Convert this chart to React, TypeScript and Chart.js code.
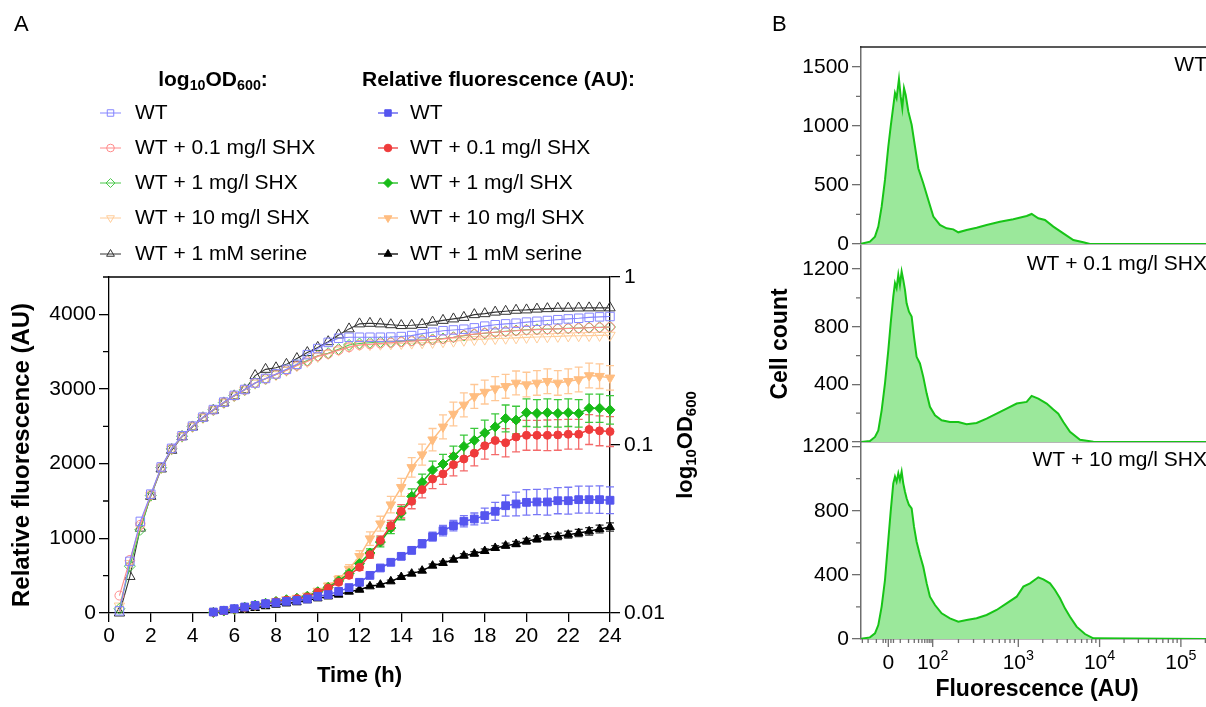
import React, { useEffect, useRef } from 'react';
import { Chart, registerables } from 'chart.js';
Chart.register(...registerables);

const FONT = "'Liberation Sans', Arial, Helvetica, sans-serif";

// ---------------- Panel A data ----------------
const seriesNames = ['WT', 'WT + 0.1 mg/l SHX', 'WT + 1 mg/l SHX', 'WT + 10 mg/l SHX', 'WT + 1 mM serine'];

const timeTicks = [0, 2, 4, 6, 8, 10, 12, 14, 16, 18, 20, 22, 24];
const fluorTicks = [0, 1000, 2000, 3000, 4000];
const fluorMinorTicks = [500, 1500, 2500, 3500, 4500];
const odTicks = [0.01, 0.1, 1];

const odTime = [0.5, 1, 1.5, 2, 2.5, 3, 3.5, 4, 4.5, 5, 5.5, 6, 6.5, 7, 7.5, 8, 8.5, 9, 9.5, 10, 10.5, 11, 11.5, 12, 12.5, 13, 13.5, 14, 14.5, 15, 15.5, 16, 16.5, 17, 17.5, 18, 18.5, 19, 19.5, 20, 20.5, 21, 21.5, 22, 22.5, 23, 23.5, 24];

const odWT = [0.0103, 0.0203, 0.0351, 0.051, 0.074, 0.0955, 0.1135, 0.1295, 0.1465, 0.1625, 0.18, 0.1975, 0.214, 0.234, 0.249, 0.265, 0.282, 0.302, 0.345, 0.375, 0.408, 0.432, 0.4375, 0.438, 0.438, 0.438, 0.439, 0.442, 0.448, 0.46, 0.469, 0.479, 0.484, 0.489, 0.498, 0.51, 0.52, 0.526, 0.531, 0.539, 0.545, 0.551, 0.557, 0.563, 0.568, 0.575, 0.579, 0.582];
const odSHX01 = [0.0127, 0.0207, 0.0335, 0.0505, 0.0736, 0.095, 0.113, 0.129, 0.146, 0.162, 0.179, 0.1965, 0.213, 0.234, 0.248, 0.263, 0.279, 0.297, 0.315, 0.338, 0.349, 0.367, 0.382, 0.394, 0.398, 0.402, 0.406, 0.41, 0.415, 0.419, 0.423, 0.428, 0.437, 0.45, 0.457, 0.464, 0.469, 0.474, 0.479, 0.484, 0.486, 0.489, 0.491, 0.494, 0.496, 0.499, 0.501, 0.504];
const odSHX1 = [0.0106, 0.019, 0.0313, 0.05, 0.0733, 0.0948, 0.1128, 0.129, 0.146, 0.162, 0.179, 0.1965, 0.213, 0.234, 0.248, 0.263, 0.28, 0.299, 0.318, 0.34, 0.352, 0.372, 0.394, 0.402, 0.406, 0.41, 0.41, 0.414, 0.418, 0.421, 0.425, 0.43, 0.438, 0.448, 0.456, 0.463, 0.469, 0.475, 0.48, 0.485, 0.488, 0.49, 0.492, 0.495, 0.497, 0.5, 0.502, 0.504];
const odSHX10 = [0.011, 0.0197, 0.033, 0.05, 0.073, 0.0945, 0.1125, 0.1285, 0.1455, 0.1615, 0.1785, 0.196, 0.2125, 0.233, 0.247, 0.262, 0.278, 0.296, 0.314, 0.336, 0.35, 0.367, 0.384, 0.394, 0.396, 0.398, 0.4, 0.402, 0.404, 0.406, 0.408, 0.412, 0.415, 0.42, 0.424, 0.427, 0.43, 0.432, 0.434, 0.437, 0.439, 0.441, 0.443, 0.446, 0.447, 0.448, 0.449, 0.45];
const odSerine = [0.01, 0.0165, 0.032, 0.0495, 0.072, 0.093, 0.112, 0.128, 0.145, 0.161, 0.178, 0.196, 0.213, 0.259, 0.282, 0.288, 0.302, 0.327, 0.355, 0.381, 0.412, 0.452, 0.491, 0.526, 0.53, 0.526, 0.52, 0.514, 0.516, 0.522, 0.539, 0.552, 0.563, 0.575, 0.597, 0.605, 0.618, 0.625, 0.634, 0.637, 0.644, 0.648, 0.651, 0.652, 0.654, 0.655, 0.655, 0.655];

const flTime = [5, 5.5, 6, 6.5, 7, 7.5, 8, 8.5, 9, 9.5, 10, 10.5, 11, 11.5, 12, 12.5, 13, 13.5, 14, 14.5, 15, 15.5, 16, 16.5, 17, 17.5, 18, 18.5, 19, 19.5, 20, 20.5, 21, 21.5, 22, 22.5, 23, 23.5, 24];

const flWT = [13, 36, 58, 80, 103, 125, 138, 156, 170, 188, 223, 246, 290, 340, 411, 504, 603, 679, 759, 839, 929, 1022, 1103, 1170, 1228, 1259, 1304, 1362, 1437, 1460, 1482, 1487, 1487, 1504, 1504, 1518, 1518, 1518, 1510];
const flWTErr = [15, 15, 15, 15, 15, 15, 15, 15, 15, 15, 20, 20, 20, 20, 20, 25, 30, 35, 40, 45, 55, 60, 70, 70, 75, 80, 100, 120, 140, 160, 170, 170, 175, 175, 180, 180, 180, 185, 180];
const flSHX01 = [10, 30, 52, 75, 100, 125, 150, 172, 192, 215, 277, 335, 411, 504, 612, 781, 973, 1170, 1362, 1496, 1652, 1795, 1862, 1987, 2063, 2140, 2240, 2310, 2280, 2357, 2380, 2380, 2380, 2385, 2394, 2394, 2457, 2440, 2430];
const flSHX01Err = [10, 10, 10, 10, 10, 10, 10, 10, 10, 10, 20, 25, 30, 35, 40, 50, 60, 70, 90, 100, 110, 130, 140, 150, 160, 170, 180, 190, 190, 200, 200, 200, 205, 205, 200, 200, 200, 200, 200];
const flSHX1 = [8, 28, 50, 78, 105, 130, 155, 178, 198, 225, 285, 345, 430, 530, 661, 804, 950, 1138, 1339, 1562, 1750, 1914, 1995, 2095, 2231, 2312, 2412, 2493, 2606, 2584, 2683, 2674, 2683, 2674, 2683, 2674, 2742, 2742, 2720];
const flSHX1Err = [10, 10, 10, 10, 10, 10, 10, 10, 10, 10, 20, 25, 30, 35, 45, 55, 65, 75, 90, 100, 110, 120, 130, 140, 150, 160, 170, 175, 180, 185, 185, 185, 185, 185, 185, 185, 190, 190, 190];
const flSHX10 = [12, 32, 55, 80, 105, 132, 158, 180, 200, 230, 295, 365, 455, 589, 759, 996, 1196, 1451, 1683, 1950, 2121, 2321, 2493, 2665, 2787, 2900, 2959, 3005, 3036, 3081, 3059, 3081, 3104, 3081, 3104, 3127, 3181, 3172, 3149];
const flSHX10Err = [10, 10, 10, 10, 10, 10, 10, 10, 10, 10, 20, 30, 45, 60, 75, 90, 100, 110, 120, 130, 140, 150, 160, 160, 160, 160, 160, 160, 160, 160, 165, 165, 165, 165, 165, 165, 165, 165, 165];
const flSerine = [5, 20, 40, 55, 67, 90, 112, 128, 143, 170, 196, 222, 246, 286, 312, 357, 379, 424, 482, 527, 567, 634, 670, 714, 768, 795, 830, 871, 902, 924, 960, 991, 1018, 1027, 1049, 1071, 1094, 1125, 1152];
const flSerineErr = [8, 8, 8, 8, 8, 8, 8, 8, 8, 8, 10, 10, 10, 12, 12, 14, 15, 16, 18, 20, 20, 22, 24, 25, 26, 28, 30, 32, 34, 36, 38, 40, 42, 44, 46, 48, 50, 52, 55];

// ---------------- Panel B data ----------------
// x positions are in display units of the biexponential fluorescence axis (10^3 -> 3, 10^4 -> 4 ...)
const histWTx = [1.052, 1.175, 1.237, 1.278, 1.319, 1.36, 1.401, 1.43, 1.462, 1.483, 1.503, 1.532, 1.553, 1.573, 1.594, 1.614, 1.647, 1.688, 1.729, 1.77, 1.831, 1.893, 1.955, 2.036, 2.118, 2.2, 2.262, 2.364, 2.487, 2.61, 2.774, 2.938, 3.103, 3.164, 3.246, 3.328, 3.431, 3.554, 3.677, 3.8, 3.882, 5.308];
const histWTy = [0, 20, 62, 147, 316, 542, 825, 994, 1164, 1277, 1234, 1396, 1249, 1150, 1319, 1263, 1122, 1009, 825, 641, 514, 373, 232, 161, 133, 124, 99, 119, 138, 161, 189, 209, 237, 254, 218, 203, 147, 90, 34, 14, 0, 0];
const histSHX01x = [1.052, 1.175, 1.237, 1.278, 1.319, 1.36, 1.401, 1.43, 1.462, 1.483, 1.503, 1.524, 1.544, 1.565, 1.585, 1.606, 1.626, 1.655, 1.688, 1.717, 1.749, 1.79, 1.831, 1.873, 1.913, 1.975, 2.057, 2.159, 2.262, 2.364, 2.487, 2.61, 2.733, 2.856, 2.98, 3.103, 3.164, 3.246, 3.349, 3.431, 3.492, 3.554, 3.636, 3.759, 3.923, 5.308];
const histSHX01y = [0, 7, 35, 81, 220, 406, 638, 823, 1009, 1102, 1067, 1160, 1090, 1183, 1125, 1055, 962, 904, 870, 730, 591, 545, 452, 336, 244, 186, 151, 139, 139, 123, 132, 162, 197, 232, 267, 278, 320, 301, 267, 225, 197, 139, 70, 16, 2, 0];
const histSHX10x = [1.052, 1.175, 1.237, 1.278, 1.319, 1.36, 1.401, 1.43, 1.462, 1.483, 1.503, 1.524, 1.544, 1.565, 1.585, 1.606, 1.626, 1.655, 1.688, 1.717, 1.749, 1.79, 1.831, 1.873, 1.913, 1.975, 2.057, 2.159, 2.262, 2.364, 2.487, 2.61, 2.733, 2.856, 2.98, 3.062, 3.144, 3.246, 3.308, 3.39, 3.451, 3.513, 3.574, 3.636, 3.717, 3.82, 3.923, 5.308];
const histSHX10y = [0, 10, 35, 87, 202, 368, 618, 795, 971, 1013, 982, 1034, 992, 1044, 971, 919, 878, 836, 815, 701, 607, 524, 451, 347, 264, 212, 160, 129, 108, 118, 129, 150, 181, 222, 264, 327, 347, 385, 372, 347, 306, 254, 191, 139, 77, 31, 4, 0];

const histLabels = ['WT', 'WT + 0.1 mg/l SHX', 'WT + 10 mg/l SHX'];
const histTicks1 = [0, 500, 1000, 1500];
const histMinor1 = [250, 750, 1250];
const histTicks23 = [0, 400, 800, 1200];
const histMinor23 = [200, 600, 1000];
const fluorAxisValues = [0, 100, 1000, 10000, 100000];
const fluorAxisExp = ['', '2', '3', '4', '5'];
const fluorMinorValues = [-30, -20, -10, -4, -2, 2, 4, 10, 20, 30, 40, 50, 60, 70, 80, 90, 200, 300, 400, 500, 600, 700, 800, 900, 2000, 3000, 4000, 5000, 6000, 7000, 8000, 9000, 20000, 30000, 40000, 50000, 60000, 70000, 80000, 90000, 200000];

// biexponential display transform for axis ticks
function biexU(v: number) {
  if (Math.abs(v) <= 100) return 1.401 + 0.1938 * Math.asinh(v / 12);
  if (v < 1000) return 1.947 + (Math.log10(v) - 2) * 1.053;
  return Math.log10(v);
}

// ---------------- styling ----------------
const flColors = ['#5555ef', '#ef3b3b', '#17bb17', '#ffbd80', '#000000'];
const errColors = ['#7878f6', '#f46a6a', '#3cc83c', '#ffc896', '#333333'];
const odColors = ['#8585ff', '#ff8a8a', '#4cc84c', '#ffcc99', '#333333'];
const styles = ['rect', 'circle', 'rectRot', 'triangle', 'triangle'];
const rotations = [0, 0, 0, 180, 0];
const flRadius = [5.5, 4, 5, 5.5, 5];
const odRadius = [6, 4.5, 5.5, 6, 6];

type Seg = [string, number];

function richWidth(ctx: CanvasRenderingContext2D, segs: Seg[], size: number, weight: string) {
  let w = 0;
  for (const [t, k] of segs) {
    ctx.font = `${weight} ${k ? size * 0.68 : size}px ${FONT}`;
    w += ctx.measureText(t).width;
  }
  return w;
}

function drawRich(ctx: CanvasRenderingContext2D, segs: Seg[], x: number, y: number, size: number, weight: string, align: string) {
  const w = richWidth(ctx, segs, size, weight);
  let cx = align === 'center' ? x - w / 2 : align === 'right' ? x - w : x;
  ctx.textAlign = 'left';
  ctx.textBaseline = 'middle';
  for (const [t, k] of segs) {
    const s = k ? size * 0.68 : size;
    ctx.font = `${weight} ${s}px ${FONT}`;
    const dy = k === 1 ? size * 0.28 : k === 2 ? -size * 0.34 : 0;
    ctx.fillText(t, cx, y + dy);
    cx += ctx.measureText(t).width;
  }
}

function drawMarker(ctx: CanvasRenderingContext2D, style: string, rot: number, x: number, y: number, r: number, fill: string | null, stroke: string) {
  ctx.beginPath();
  if (style === 'rect') {
    const s = r * 0.72;
    ctx.rect(x - s, y - s, 2 * s, 2 * s);
  } else if (style === 'circle') {
    ctx.arc(x, y, r * 0.85, 0, Math.PI * 2);
  } else if (style === 'rectRot') {
    ctx.moveTo(x, y - r); ctx.lineTo(x + r, y); ctx.lineTo(x, y + r); ctx.lineTo(x - r, y); ctx.closePath();
  } else {
    const d = rot === 180 ? -1 : 1;
    ctx.moveTo(x, y - d * r); ctx.lineTo(x + r * 0.866, y + d * r * 0.5); ctx.lineTo(x - r * 0.866, y + d * r * 0.5); ctx.closePath();
  }
  if (fill) { ctx.fillStyle = fill; ctx.fill(); }
  ctx.strokeStyle = stroke;
  ctx.lineWidth = 1;
  ctx.stroke();
}

const errorBarPlugin = {
  id: 'errorBars',
  beforeDatasetsDraw(chart: any) {
    const ctx = chart.ctx;
    chart.data.datasets.forEach((ds: any, di: number) => {
      if (!ds.errors) return;
      const meta = chart.getDatasetMeta(di);
      const xs = chart.scales[meta.xAxisID];
      const ys = chart.scales[meta.yAxisID];
      ctx.save();
      ctx.strokeStyle = ds.errorColor;
      ctx.lineWidth = 1.3;
      ds.data.forEach((p: any, i: number) => {
        const e = ds.errors[i];
        const x = xs.getPixelForValue(p.x);
        const y1 = ys.getPixelForValue(p.y + e);
        const y2 = ys.getPixelForValue(Math.max(0, p.y - e));
        ctx.beginPath();
        ctx.moveTo(x, y1); ctx.lineTo(x, y2);
        ctx.moveTo(x - 4, y1); ctx.lineTo(x + 4, y1);
        ctx.moveTo(x - 4, y2); ctx.lineTo(x + 4, y2);
        ctx.stroke();
      });
      ctx.restore();
    });
  },
};

const panelAPlugin = {
  id: 'panelADeco',
  afterDraw(chart: any) {
    const { ctx, chartArea: ca, scales } = chart;
    ctx.save();
    ctx.strokeStyle = '#000';
    ctx.lineWidth = 1.3;
    ctx.beginPath();
    ctx.moveTo(ca.left, ca.top); ctx.lineTo(ca.right, ca.top);
    for (const v of fluorMinorTicks) {
      const y = scales.y.getPixelForValue(v);
      ctx.moveTo(ca.left - 6, y); ctx.lineTo(ca.left, y);
    }
    ctx.stroke();

    ctx.fillStyle = '#000';
    // panel letter
    drawRich(ctx, [['A', 0]], 14, 25, 22, 'normal', 'left');
    // axis titles
    drawRich(ctx, [['Time (h)', 0]], (ca.left + ca.right) / 2, 676, 22, 'bold', 'center');
    ctx.save();
    ctx.translate(22, 455);
    ctx.rotate(-Math.PI / 2);
    drawRich(ctx, [['Relative fluorescence (AU)', 0]], 0, 0, 24, 'bold', 'center');
    ctx.restore();
    ctx.save();
    ctx.translate(686, (ca.top + ca.bottom) / 2);
    ctx.rotate(-Math.PI / 2);
    drawRich(ctx, [['log', 0], ['10', 1], ['OD', 0], ['600', 1]], 0, 0, 22, 'bold', 'center');
    ctx.restore();

    // legend
    drawRich(ctx, [['log', 0], ['10', 1], ['OD', 0], ['600', 1], [':', 0]], 213, 80, 21, 'bold', 'center');
    drawRich(ctx, [['Relative fluorescence (AU):', 0]], 362, 80, 21, 'bold', 'left');
    const rows = [113, 148, 183, 218, 254];
    seriesNames.forEach((name, i) => {
      const y = rows[i];
      // OD column
      ctx.strokeStyle = odColors[i];
      ctx.lineWidth = 1;
      ctx.beginPath(); ctx.moveTo(100, y); ctx.lineTo(121, y); ctx.stroke();
      drawMarker(ctx, styles[i], rotations[i], 110.5, y, 4.5, null, odColors[i]);
      ctx.fillStyle = '#000';
      drawRich(ctx, [[name, 0]], 135, y, 21, 'normal', 'left');
      // fluorescence column
      ctx.strokeStyle = flColors[i];
      ctx.lineWidth = 1.3;
      ctx.beginPath(); ctx.moveTo(378, y); ctx.lineTo(398, y); ctx.stroke();
      drawMarker(ctx, styles[i], rotations[i], 388, y, 4.5, flColors[i], flColors[i]);
      ctx.fillStyle = '#000';
      drawRich(ctx, [[name, 0]], 410, y, 21, 'normal', 'left');
    });
    ctx.restore();
  },
};

function makePanelA(canvas: HTMLCanvasElement) {
  const fl = [flWT, flSHX01, flSHX1, flSHX10, flSerine];
  const flErr = [flWTErr, flSHX01Err, flSHX1Err, flSHX10Err, flSerineErr];
  const od = [odWT, odSHX01, odSHX1, odSHX10, odSerine];
  const datasets: any[] = [];
  fl.forEach((vals, i) => {
    datasets.push({
      label: 'Fluorescence ' + seriesNames[i],
      data: flTime.map((t, j) => ({ x: t, y: vals[j] })),
      xAxisID: 'x', yAxisID: 'y',
      borderColor: flColors[i], backgroundColor: flColors[i],
      pointBackgroundColor: flColors[i], pointBorderColor: flColors[i],
      pointStyle: styles[i], pointRotation: rotations[i], pointRadius: flRadius[i],
      pointBorderWidth: 1, borderWidth: 1.5, tension: 0, clip: false,
      errors: flErr[i], errorColor: errColors[i],
    });
  });
  od.forEach((vals, i) => {
    datasets.push({
      label: 'OD ' + seriesNames[i],
      data: odTime.map((t, j) => ({ x: t, y: vals[j] })),
      xAxisID: 'x', yAxisID: 'yR',
      borderColor: odColors[i], backgroundColor: 'rgba(0,0,0,0)',
      pointBackgroundColor: 'rgba(0,0,0,0)', pointBorderColor: odColors[i],
      pointStyle: styles[i], pointRotation: rotations[i], pointRadius: odRadius[i],
      pointBorderWidth: 1, borderWidth: 1.1, tension: 0, clip: false,
    });
  });
  const tickFont = { family: FONT, size: 21 };
  return new Chart(canvas, {
    type: 'line',
    data: { datasets },
    options: {
      responsive: false,
      animation: false,
      events: [],
      layout: { padding: { top: 277, left: 0, right: 0, bottom: 0 } },
      plugins: { legend: { display: false }, tooltip: { enabled: false } },
      scales: {
        x: {
          type: 'linear', position: 'bottom', min: 0, max: 24,
          afterBuildTicks: (s: any) => { s.ticks = timeTicks.map((v) => ({ value: v })); },
          afterFit: (s: any) => { s.height = 94; },
          grid: { drawOnChartArea: false, drawTicks: true, tickLength: 9, color: '#000', lineWidth: 1.3 },
          border: { display: true, color: '#000', width: 1.3 },
          ticks: { color: '#000', font: tickFont, padding: 2, maxRotation: 0, autoSkip: false, callback: (v: any) => String(v) },
        },
        y: {
          type: 'linear', position: 'left', min: 0, max: 4500,
          afterBuildTicks: (s: any) => { s.ticks = fluorTicks.map((v) => ({ value: v })); },
          afterFit: (s: any) => { s.width = 109; },
          grid: { drawOnChartArea: false, drawTicks: true, tickLength: 10, color: '#000', lineWidth: 1.3 },
          border: { display: true, color: '#000', width: 1.3 },
          ticks: { color: '#000', font: tickFont, padding: 3, callback: (v: any) => String(v) },
        },
        yR: {
          type: 'logarithmic', position: 'right', min: 0.01, max: 1,
          afterBuildTicks: (s: any) => { s.ticks = odTicks.map((v) => ({ value: v })); },
          afterFit: (s: any) => { s.width = 150; },
          grid: { drawOnChartArea: false, drawTicks: true, tickLength: 10, color: '#000', lineWidth: 1.3 },
          border: { display: true, color: '#000', width: 1.3 },
          ticks: { color: '#000', font: tickFont, padding: 4, callback: (v: any) => String(v) },
        },
      } as any,
    },
    plugins: [errorBarPlugin, panelAPlugin],
  } as any);
}

const AXIS_GREY = '#6e6e6e';

function makeHist(canvas: HTMLCanvasElement, idx: number) {
  const xs = [histWTx, histSHX01x, histSHX10x][idx];
  const ys = [histWTy, histSHX01y, histSHX10y][idx];
  const top = [47, 246, 442][idx];
  const baseline = [244, 442, 639][idx];
  const yMax = [1667, 1360, 1229][idx];
  const ticks = idx === 0 ? histTicks1 : histTicks23;
  const minor = idx === 0 ? histMinor1 : histMinor23;
  const isBottom = idx === 2;

  const plugin = {
    id: 'histDeco' + idx,
    afterDraw(chart: any) {
      const { ctx, chartArea: ca, scales } = chart;
      ctx.save();
      ctx.lineWidth = 1.3;
      ctx.strokeStyle = AXIS_GREY;
      ctx.beginPath();
      for (const v of minor) {
        const y = scales.y.getPixelForValue(v);
        ctx.moveTo(ca.left - 5, y); ctx.lineTo(ca.left, y);
      }
      ctx.stroke();
      if (idx === 0) {
        ctx.strokeStyle = '#222';
        ctx.beginPath(); ctx.moveTo(ca.left - 1, ca.top); ctx.lineTo(ca.right, ca.top); ctx.stroke();
        ctx.fillStyle = '#000';
        drawRich(ctx, [['B', 0]], 12, 25, 22, 'normal', 'left');
      }
      ctx.fillStyle = '#000';
      drawRich(ctx, [[histLabels[idx], 0]], 447, ca.top + 18, 21, 'normal', 'right');
      if (isBottom) {
        const base = ca.bottom;
        ctx.strokeStyle = AXIS_GREY;
        ctx.beginPath();
        for (const v of fluorMinorValues) {
          const x = scales.x.getPixelForValue(biexU(v));
          if (x < ca.left || x > ca.right) continue;
          ctx.moveTo(x, base); ctx.lineTo(x, base + 4);
        }
        fluorAxisValues.forEach((v) => {
          const x = scales.x.getPixelForValue(biexU(v));
          ctx.moveTo(x, base); ctx.lineTo(x, base + 8);
        });
        ctx.stroke();
        ctx.fillStyle = '#000';
        fluorAxisValues.forEach((v, i) => {
          const x = scales.x.getPixelForValue(biexU(v));
          const segs: Seg[] = v === 0 ? [['0', 0]] : [['10', 0], [fluorAxisExp[i], 2]];
          drawRich(ctx, segs, x, 663, 21, 'normal', 'center');
        });
        drawRich(ctx, [['Fluorescence (AU)', 0]], 277, 690, 23, 'bold', 'center');
        ctx.save();
        ctx.translate(21, 344);
        ctx.rotate(-Math.PI / 2);
        drawRich(ctx, [['Cell count', 0]], 0, 0, 23, 'bold', 'center');
        ctx.restore();
      }
      ctx.restore();
    },
  };

  return new Chart(canvas, {
    type: 'line',
    data: {
      datasets: [{
        label: histLabels[idx],
        data: xs.map((x, i) => ({ x, y: ys[i] })),
        borderColor: '#17c417', borderWidth: 2,
        backgroundColor: '#9be89b', fill: 'origin',
        pointRadius: 0, tension: 0,
      }],
    },
    options: {
      responsive: false,
      animation: false,
      events: [],
      layout: { padding: { top, left: 0, right: 0, bottom: 0 } },
      plugins: { legend: { display: false }, tooltip: { enabled: false } },
      scales: {
        x: {
          type: 'linear', min: 1.065, max: 5.309,
          afterFit: (s: any) => { s.height = 707 - baseline; },
          grid: { display: false },
          border: { display: true, color: AXIS_GREY, width: 1.5 },
          ticks: { display: false },
        },
        y: {
          type: 'linear', min: 0, max: yMax,
          afterBuildTicks: (s: any) => { s.ticks = ticks.map((v) => ({ value: v })); },
          afterFit: (s: any) => { s.width = 101; },
          grid: { drawOnChartArea: false, drawTicks: true, tickLength: 9, color: AXIS_GREY, lineWidth: 1.3 },
          border: { display: true, color: AXIS_GREY, width: 1.5 },
          ticks: {
            color: '#000', font: { family: FONT, size: 21 }, padding: 3,
            callback: (v: any) => (idx === 1 && v === 0 ? '' : String(v)),
          },
        },
      } as any,
    },
    plugins: [plugin],
  } as any);
}

export default function App() {
  const refA = useRef<HTMLCanvasElement>(null);
  const refB1 = useRef<HTMLCanvasElement>(null);
  const refB2 = useRef<HTMLCanvasElement>(null);
  const refB3 = useRef<HTMLCanvasElement>(null);

  useEffect(() => {
    const charts = [
      makePanelA(refA.current!),
      makeHist(refB1.current!, 0),
      makeHist(refB2.current!, 1),
      makeHist(refB3.current!, 2),
    ];
    return () => charts.forEach((c) => c.destroy());
  }, []);

  const bStyle: React.CSSProperties = { position: 'absolute', left: 760, top: 0, width: 446, height: 707 };
  return (
    <div style={{ position: 'fixed', left: 0, top: 0, width: 1206, height: 707, background: '#fff', overflow: 'hidden' }}>
      <canvas ref={refA} width={760} height={707} style={{ position: 'absolute', left: 0, top: 0, width: 760, height: 707 }} />
      <canvas ref={refB1} width={446} height={707} style={bStyle} />
      <canvas ref={refB2} width={446} height={707} style={bStyle} />
      <canvas ref={refB3} width={446} height={707} style={bStyle} />
    </div>
  );
}
